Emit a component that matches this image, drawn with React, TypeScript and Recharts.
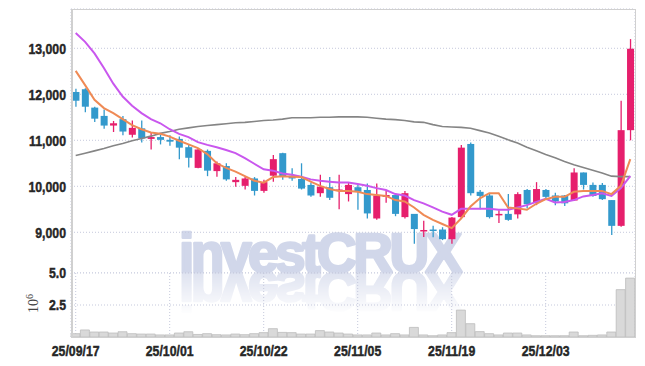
import { ComposedChart, BarChart, Bar, Line, XAxis, YAxis, CartesianGrid } from 'recharts';

const dates = [
  '25/09/17', '25/09/18', '25/09/19', '25/09/22', '25/09/23', '25/09/24', '25/09/25', '25/09/26', '25/09/29', '25/09/30',
  '25/10/01', '25/10/02', '25/10/10', '25/10/13', '25/10/14', '25/10/15', '25/10/16', '25/10/17', '25/10/20', '25/10/21',
  '25/10/22', '25/10/23', '25/10/24', '25/10/27', '25/10/28', '25/10/29', '25/10/30', '25/10/31', '25/11/03', '25/11/04',
  '25/11/05', '25/11/06', '25/11/07', '25/11/10', '25/11/11', '25/11/12', '25/11/13', '25/11/14', '25/11/17', '25/11/18',
  '25/11/19', '25/11/20', '25/11/21', '25/11/24', '25/11/25', '25/11/26', '25/11/27', '25/11/28', '25/12/01', '25/12/02',
  '25/12/03', '25/12/04', '25/12/05', '25/12/08', '25/12/09', '25/12/10', '25/12/11', '25/12/12', '25/12/15', '25/12/16',
];

const opens = [
  12050, 12110, 11710, 11530, 11320, 11460, 11120, 11260, 11030, 11070,
  11010, 11030, 10850, 10400, 10770, 10330, 10440, 10090, 10010, 10170,
  9900, 10230, 10720, 10230, 10160, 10030, 9850, 9980, 9910, 9830,
  9980, 9920, 9300, 9770, 9810, 9330, 9400, 9020, 9060, 9060,
  8850, 9330, 10920, 9880, 9800, 9370, 9400, 9390, 9920, 9640,
  9920, 9800, 9800, 9690, 10300, 10030, 10030, 9700, 9140, 11220,
];
const highs = [
  12120, 12130, 11730, 11670, 11420, 11530, 11430, 11430, 11160, 11120,
  11110, 11080, 10900, 10830, 10800, 10540, 10500, 10200, 10200, 10200,
  10140, 10680, 10730, 10390, 10500, 10080, 10250, 10200, 10250, 10090,
  10030, 10060, 10060, 9900, 9850, 9900, 9400, 9250, 9140, 9110,
  9330, 10900, 10950, 9920, 9850, 9480, 9830, 9870, 9940, 10090,
  9940, 9860, 9810, 10390, 10300, 10080, 10070, 9700, 11860, 13200,
];
const lows = [
  11730, 11610, 11400, 11250, 11180, 11110, 11060, 10950, 10800, 10910,
  10880, 10590, 10410, 10390, 10220, 10210, 10120, 9990, 9930, 9800,
  9860, 10100, 10140, 10120, 9930, 9770, 9770, 9700, 9500, 9670,
  9490, 9300, 9270, 9640, 9350, 9300, 8750, 8900, 8890, 8830,
  8750, 9300, 9800, 9500, 9300, 9200, 9250, 9300, 9520, 9590,
  9700, 9590, 9570, 9680, 9930, 9770, 9700, 8940, 9120, 11000,
];
const closes = [
  11860, 11730, 11470, 11320, 11370, 11190, 11270, 11040, 11070, 11010,
  10970, 10840, 10620, 10800, 10340, 10500, 10150, 10140, 10170, 9900,
  10090, 10590, 10220, 10170, 9950, 9800, 9990, 9750, 9930, 10030,
  9880, 9410, 9800, 9810, 9400, 9850, 9070, 9050, 9030, 8850,
  9320, 10840, 9850, 9790, 9330, 9400, 9270, 9830, 9610, 9940,
  9770, 9670, 9630, 10300, 10030, 9790, 9720, 9140, 11220, 12990,
];

const maShort = [
  12510, 12200, 11880, 11700, 11590, 11460, 11330, 11240, 11170, 11140,
  11080, 10990, 10910, 10830, 10700, 10500, 10400, 10320, 10220, 10120,
  10080, 10200, 10220, 10210, 10200, 10100, 10010, 9940, 9900, 9900,
  9880, 9830, 9810, 9790, 9700, 9670, 9540, 9380, 9270, 9180,
  9090, 9300, 9560, 9740, 9850, 9850, 9540, 9520, 9490, 9620,
  9720, 9770, 9770, 9880, 9900, 9900, 9900, 9830, 10010, 10590,
];
const maMid = [
  13330, 13140, 12890, 12570, 12230, 11950, 11750, 11590, 11460, 11370,
  11240, 11140, 11070, 10960, 10900, 10850, 10790, 10720, 10610, 10490,
  10370, 10340, 10280, 10250, 10210, 10150, 10120, 10100, 10080, 10080,
  10050, 10010, 9960, 9920, 9830, 9800, 9700, 9630, 9540, 9450,
  9380, 9510, 9510, 9510, 9510, 9490, 9490, 9540, 9590, 9660,
  9730, 9650, 9660, 9700, 9780, 9810, 9850, 9790, 9960, 10220,
];
const maLong = [
  10670, 10720, 10770, 10820, 10880, 10930, 10990, 11040, 11090, 11150,
  11190, 11240, 11270, 11300, 11320, 11340, 11360, 11380, 11390, 11410,
  11430, 11440, 11460, 11490, 11490, 11490, 11500, 11500, 11510, 11510,
  11510, 11500, 11480, 11460, 11450, 11430, 11400, 11390, 11340, 11300,
  11290, 11280, 11260, 11210, 11160, 11090, 11010, 10940, 10850, 10770,
  10690, 10620, 10540, 10470, 10410, 10350, 10290, 10220, 10210, 10210,
];

// volume in millions
const volumes = [
  0.26, 0.55, 0.39, 0.39, 0.31, 0.41, 0.26, 0.23, 0.23, 0.16,
  0.16, 0.31, 0.41, 0.2, 0.26, 0.18, 0.16, 0.23, 0.18, 0.26,
  0.34, 0.65, 0.36, 0.34, 0.23, 0.23, 0.5, 0.39, 0.31, 0.23,
  0.16, 0.16, 0.31, 0.16, 0.26, 0.16, 0.75, 0.16, 0.1, 0.16,
  0.34, 2.1, 1.04, 0.42, 0.26, 0.16, 0.31, 0.31, 0.16, 0.1,
  0.1, 0.1, 0.1, 0.39, 0.1, 0.13, 0.16, 0.39, 3.7, 4.6,
];

const priceTicks = [9000, 10000, 11000, 12000, 13000];
const volumeTicks = [2.5, 5.0];

const UP = '#e61f6c';
const DOWN = '#3399cc';
const GRID = '#c5c9dc';
const FONT = "'Liberation Sans', Arial, sans-serif";

const data = dates.map((date, i) => ({
  date,
  range: [lows[i], highs[i]],
  open: opens[i],
  high: highs[i],
  low: lows[i],
  close: closes[i],
  maShort: maShort[i],
  maMid: maMid[i],
  maLong: maLong[i],
  volume: volumes[i],
}));

// narrow bold tick text (squeezed horizontally)
function AxisTick(props: any) {
  const { x, y, payload, anchor, dy, fmt } = props;
  return (
    <text
      transform={`translate(${x},${y}) scale(0.82,1)`}
      textAnchor={anchor}
      dy={dy}
      fill="#262626"
      stroke="#262626"
      strokeWidth={0.45}
      fontSize={15}
      fontWeight={700}
      fontFamily={FONT}
    >
      {fmt(payload.value)}
    </text>
  );
}

function Candle(props: any) {
  const { x, y, width, height, payload } = props;
  if (!payload || x == null) return null;
  const top = Math.min(y, y + height);
  const h = Math.abs(height);
  const span = payload.high - payload.low;
  const k = span > 0 ? h / span : 0;
  const color = payload.close >= payload.open ? UP : DOWN;
  const bodyTop = top + (payload.high - Math.max(payload.open, payload.close)) * k;
  const bodyH = Math.max(1.5, Math.abs(payload.close - payload.open) * k);
  const cx = x + width / 2;
  const bw = 7;
  return (
    <g>
      <line x1={cx} x2={cx} y1={top} y2={top + h} stroke={color} strokeWidth={1.3} />
      <rect x={cx - bw / 2} y={bodyTop} width={bw} height={bodyH} fill={color} />
    </g>
  );
}

export default function App() {
  return (
    <div style={{ position: 'absolute', left: 0, top: 0, width: 645, height: 366, background: '#fff' }}>
      {/* watermark + volume unit, behind the charts */}
      <svg width={645} height={366} style={{ position: 'absolute', left: 0, top: 0 }}>
        <defs>
          <linearGradient id="fade" x1="0" y1="272" x2="0" y2="315" gradientUnits="userSpaceOnUse">
            <stop offset="0" stopColor="#fff" stopOpacity={0.8} />
            <stop offset="1" stopColor="#fff" stopOpacity={0} />
          </linearGradient>
          <mask id="reflect" maskUnits="userSpaceOnUse" x="0" y="272" width="645" height="60">
            <rect x="0" y="272" width="645" height="60" fill="url(#fade)" />
          </mask>
        </defs>
        <text x={179} y={272} fontSize={55} fontWeight={700} letterSpacing={-3.5}
          fontFamily={FONT} fill="#d1d7ea" stroke="#d1d7ea" strokeWidth={2.6} strokeLinejoin="round">investCRUX</text>
        <g mask="url(#reflect)">
          <text x={179} y={272} transform="translate(0,544) scale(1,-1)" fontSize={55} fontWeight={700}
            letterSpacing={-3.5} fontFamily={FONT} fill="#d6dbec" stroke="#d6dbec" strokeWidth={2.6}
            strokeLinejoin="round">investCRUX</text>
        </g>
        <text transform="translate(38,313) rotate(-90)" fontSize={14} fill="#444"
          fontFamily="'Liberation Serif', serif">
          10<tspan dy={-5} fontSize={10}>6</tspan>
        </text>
      </svg>

      <div style={{ position: 'absolute', left: 0, top: 0 }}>
        <ComposedChart width={645} height={273} data={data} margin={{ top: 9, right: 10, bottom: 0, left: 0 }}>
          <CartesianGrid stroke={GRID} strokeDasharray="1 2" />
          <XAxis dataKey="date" interval={9} height={0} tick={false} axisLine={false} tickLine={false} />
          <YAxis
            domain={[8115, 13854]}
            ticks={priceTicks}
            allowDataOverflow
            width={71}
            axisLine={false}
            tickLine={false}
            tickSize={3}
            tick={(p: any) => (
              <AxisTick {...p} anchor="end" dy="0.355em" fmt={(v: number) => v.toLocaleString('en-US')} />
            )}
          />
          <Bar dataKey="range" shape={(p: any) => <Candle {...p} />} isAnimationActive={false} />
          <Line type="linear" dataKey="maLong" stroke="#858585" strokeWidth={1.6} dot={false} isAnimationActive={false} />
          <Line type="linear" dataKey="maMid" stroke="#c957ee" strokeWidth={2} dot={false} isAnimationActive={false} />
          <Line type="linear" dataKey="maShort" stroke="#ef8a55" strokeWidth={2} dot={false} isAnimationActive={false} />
        </ComposedChart>
      </div>

      <div style={{ position: 'absolute', left: 0, top: 263 }}>
        <BarChart width={645} height={103} data={data} margin={{ top: 10, right: 10, bottom: 0, left: 0 }} barCategoryGap={0}>
          <CartesianGrid stroke={GRID} strokeDasharray="1 2" />
          <XAxis
            dataKey="date"
            interval={9}
            height={29}
            axisLine={false}
            tickLine={false}
            tick={(p: any) => <AxisTick {...p} anchor="middle" dy="0.71em" fmt={(v: string) => v} />}
          />
          <YAxis
            domain={[0, 5]}
            ticks={volumeTicks}
            width={71}
            axisLine={false}
            tickLine={false}
            tickSize={3}
            tick={(p: any) => <AxisTick {...p} anchor="end" dy="0.355em" fmt={(v: number) => v.toFixed(1)} />}
          />
          <Bar dataKey="volume" fill="#d9d9d9" stroke="#bdbdbd" strokeWidth={0.8} isAnimationActive={false} />
        </BarChart>
      </div>

      <div style={{ position: 'absolute', left: 71, top: 9, width: 565, height: 329, border: '1px solid #d0d0d0', borderLeft: '2px solid #d0d0d0', boxSizing: 'border-box', pointerEvents: 'none' }} />
    </div>
  );
}
